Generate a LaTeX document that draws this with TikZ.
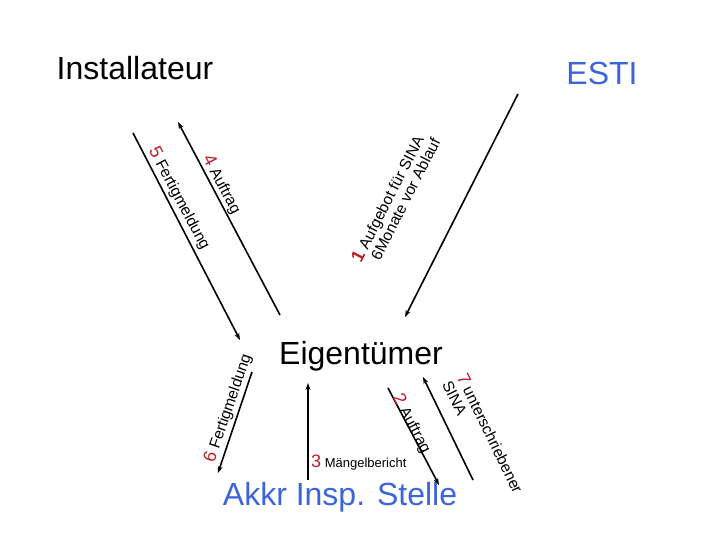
\documentclass[tikz,border=0pt]{standalone}
\usepackage{fontspec}
\setmainfont{Liberation Sans}
\usetikzlibrary{arrows.meta}
\definecolor{bl}{RGB}{60,100,220}
\definecolor{rd}{RGB}{190,30,40}
\newcommand{\rn}[1]{\textcolor{rd}{\fontsize{18}{18}\selectfont #1}}
\begin{document}
\begin{tikzpicture}[x=1pt,y=-1pt,
  arr/.style={line width=1.6pt,-{Stealth[length=7pt,width=5pt]}},
  big/.style={font=\fontsize{32}{34}\selectfont},
  lab/.style={font=\fontsize{15.5}{16}\selectfont,align=left,inner sep=1pt}]
\useasboundingbox (0,0) rectangle (720,540);
\node[big] (inst) at (135,68) {Installateur};
\node[big,text=bl] (esti) at (602,73) {ESTI};
\node[big] (eig) at (361,356) {Eigentümer};
\node[big,text=bl] (akkr) at (340,497) {Akkr Insp. Stelle};
\coordinate (a5) at (133,133); \coordinate (b5) at (240,340);
\coordinate (a4) at (280,315); \coordinate (b4) at (178,122);
\coordinate (a1) at (518,94); \coordinate (b1) at (405,317);
\coordinate (a6) at (252,372); \coordinate (b6) at (218,473);
\coordinate (a3) at (308,480); \coordinate (b3) at (308,383);
\coordinate (a2) at (388,388); \coordinate (b2) at (439,485);
\coordinate (a7) at (473,480); \coordinate (b7) at (423,377);
\draw[arr] (a5) -- (b5);
\draw[arr] (a4) -- (b4);
\draw[arr] (a1) -- (b1);
\draw[arr] (a6) -- (b6);
\draw[arr] (a3) -- (b3);
\draw[arr] (a2) -- (b2);
\draw[arr] (a7) -- (b7);
\node[lab,rotate=-62,anchor=north west] (l5) at (160,143) {\rn{5} Fertigmeldung};
\node[lab,rotate=-62,anchor=north west] (l4) at (214,151) {\rn{4} Auftrag};
\node[lab,rotate=63,anchor=south west] (l1) at (376,272) {\rn{\textbf{1}} Aufgebot für SINA\\ \hphantom{\rn{\textbf{1}}}6Monate vor Ablauf};
\node[lab,rotate=71,anchor=south west] (l6) at (218,466) {\rn{6} Fertigmeldung};
\node[lab,anchor=west,font=\fontsize{13}{14}\selectfont] (l3) at (310,463) {\rn{3} Mängelbericht};
\node[lab,rotate=-62,anchor=north west] (l2) at (404,390) {\rn{2} Auftrag};
\node[lab,rotate=-64,anchor=north west] (l7) at (468,370) {\rn{7} unterschriebener\\ SINA};
\end{tikzpicture}
\end{document}
